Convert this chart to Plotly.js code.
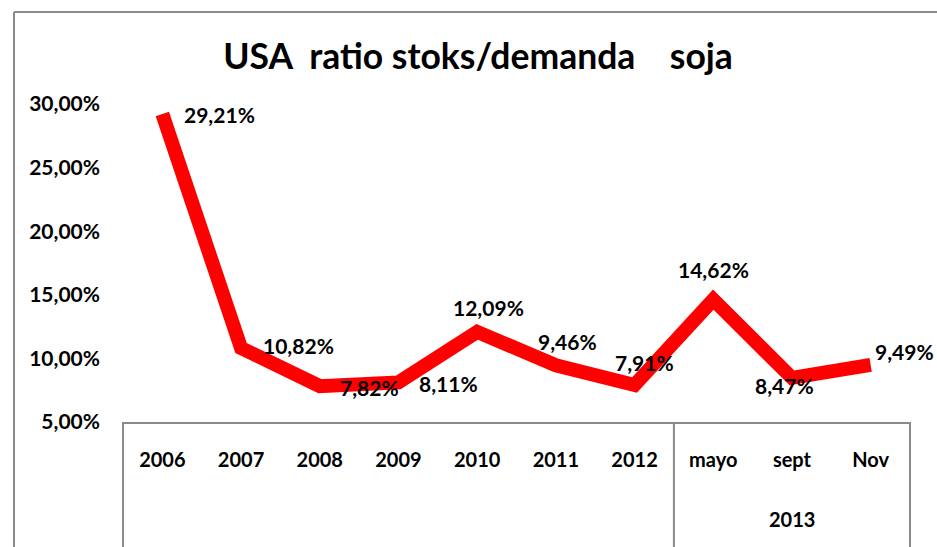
<!DOCTYPE html>
<html>
<head>
<meta charset="utf-8">
<script src="https://cdn.plot.ly/plotly-3.0.1.min.js"></script>
<style>
html,body{margin:0;padding:0;background:#fff;}
#chart{width:937px;height:547px;}
</style>
</head>
<body>
<div id="chart"></div>
<script>
// ---- data ----
var categories = ["2006","2007","2008","2009","2010","2011","2012","mayo","sept","Nov"];
var groupLabel = "2013";
var ratioPct = [29.21, 10.82, 7.82, 8.11, 12.09, 9.46, 7.91, 14.62, 8.47, 9.49];
var yTicks = [5, 10, 15, 20, 25, 30];

// ---- label placement (style, not data) ----
var labelShift = [[57,0],[57,2],[50,-1],[50,-1],[11,24],[12,24],[10,22],[0,30],[-7,-8],[34,13]];

var FONT = "Lato, 'Open Sans', sans-serif";
var GRAY = "#8a8a8a";
var FS = 21;

function fmt(v){ return v.toFixed(2).replace(".", ",") + "%"; }

var trace = {
  x: categories,
  y: ratioPct,
  type: "scatter",
  mode: "lines",
  line: {color: "#ff0000", width: 14},
  cliponaxis: false,
  hoverinfo: "skip"
};

var annotations = categories.map(function(c, i){
  return {
    x: i, y: ratioPct[i], xref: "x", yref: "y",
    text: "<b>" + fmt(ratioPct[i]) + "</b>",
    showarrow: false,
    xshift: labelShift[i][0], yshift: labelShift[i][1],
    font: {family: FONT, size: FS, color: "#000"}
  };
});
annotations.push({
  x: 8, y: -0.35, xref: "x", yref: "paper",
  text: "<b>" + groupLabel + "</b>", showarrow: false,
  font: {family: FONT, size: FS - 1, color: "#000"}
});

var shapes = [
  {type:"line", xref:"paper", yref:"paper", x0:0, x1:0, y0:0, y1:-0.42, line:{color:GRAY, width:2}},
  {type:"line", xref:"paper", yref:"paper", x0:1, x1:1, y0:0, y1:-0.42, line:{color:GRAY, width:2}},
  {type:"line", xref:"x", yref:"paper", x0:6.5, x1:6.5, y0:0, y1:-0.42, line:{color:GRAY, width:2}},
  {type:"line", xref:"paper", yref:"paper", x0:-0.1385, x1:-0.1385, y0:1.289, y1:-0.42, line:{color:GRAY, width:2}},
  {type:"line", xref:"paper", yref:"paper", x0:-0.1385, x1:1.05, y0:1.289, y1:1.289, line:{color:GRAY, width:2}}
];

var layout = {
  width: 937, height: 547,
  margin: {l: 123, r: 27, t: 104, b: 125},
  paper_bgcolor: "#fff", plot_bgcolor: "#fff",
  showlegend: false,
  separators: ",.",
  title: {
    text: "<b>USA&nbsp;&nbsp;ratio stoks/demanda&nbsp;&nbsp;&nbsp;&nbsp;soja</b>",
    x: 478/937, xref: "container", xanchor: "center",
    y: 1 - 57/547, yref: "container", yanchor: "middle",
    font: {family: FONT, size: 35.5, color: "#000"}
  },
  xaxis: {
    type: "category",
    range: [-0.5, 9.5],
    showgrid: false, zeroline: false,
    showline: true, linecolor: GRAY, linewidth: 2,
    ticks: "", ticklabelstandoff: 19,
    tickfont: {family: FONT, size: FS - 1, color: "#000", weight: "bold"},
    fixedrange: true
  },
  yaxis: {
    range: [5, 30],
    tickvals: yTicks,
    ticktext: yTicks.map(function(v){ return "<b>" + v.toFixed(2).replace(".", ",") + "%</b>"; }),
    showgrid: false, zeroline: false, showline: false,
    ticks: "", ticklabelstandoff: 22,
    tickfont: {family: FONT, size: FS, color: "#000"},
    fixedrange: true
  },
  shapes: shapes,
  annotations: annotations
};

Plotly.newPlot("chart", [trace], layout, {displayModeBar: false, staticPlot: true});
</script>
</body>
</html>
